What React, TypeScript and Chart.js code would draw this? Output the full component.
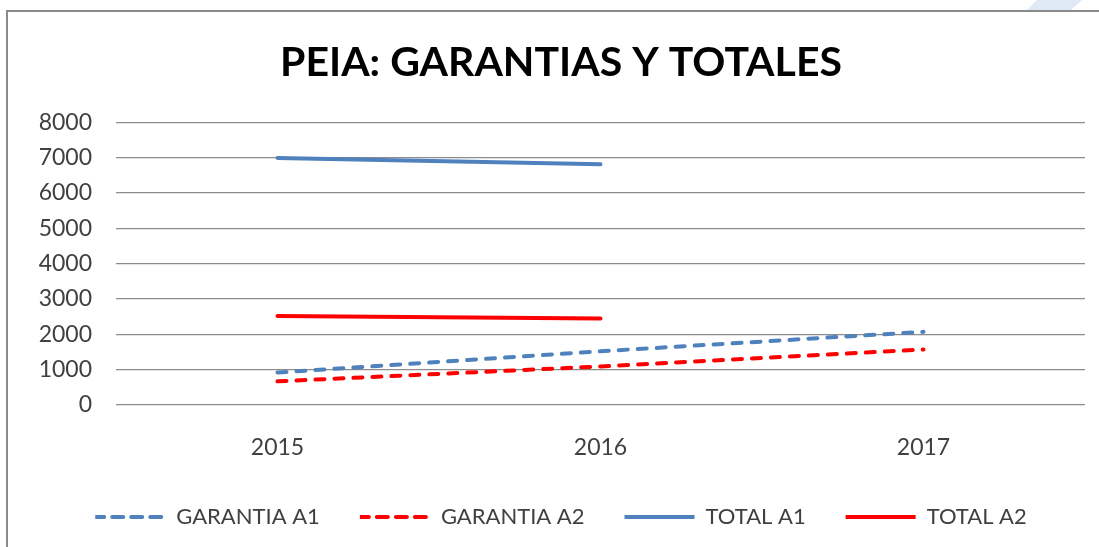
import React, { useEffect, useRef } from "react";
import { Chart, registerables } from "chart.js";

Chart.register(...registerables);

const categories = ["2015", "2016", "2017"];
const garantiaA1 = [920, 1520, 2070];
const garantiaA2 = [670, 1090, 1570];
const totalA1 = [6990, 6810, null];
const totalA2 = [2520, 2450, null];
const yTicks = { min: 0, max: 8000, step: 1000 };
const titleText = "PEIA: GARANTIAS Y TOTALES";

const BLUE = "#4F81BD";
const RED = "#FF0000";
const FONT = "Lato, 'Open Sans', sans-serif";

export default function App() {
  const ref = useRef<HTMLCanvasElement | null>(null);

  useEffect(() => {
    document.body.style.margin = "0";
    const canvas = ref.current;
    if (!canvas) return;
    const mk = (label: string, data: (number | null)[], color: string, dashed: boolean) => ({
      label,
      data,
      borderColor: color,
      backgroundColor: color,
      borderWidth: 4,
      borderDash: dashed ? [9, 10] : [],
      borderCapStyle: "round" as const,
      pointRadius: 0,
      pointHoverRadius: 0,
      tension: 0,
      spanGaps: false,
    });
    const chart = new Chart(canvas, {
      type: "line",
      data: {
        labels: categories,
        datasets: [
          mk("GARANTIA A1", garantiaA1, BLUE, true),
          mk("GARANTIA A2", garantiaA2, RED, true),
          mk("TOTAL A1", totalA1, BLUE, false),
          mk("TOTAL A2", totalA2, RED, false),
        ],
      },
      options: {
        responsive: false,
        animation: false,
        layout: { padding: { left: 37, right: 14, top: 0, bottom: 9 } },
        plugins: {
          title: {
            display: true,
            text: titleText,
            color: "#000000",
            font: { family: FONT, size: 41, weight: "bold" },
            padding: { top: 38, bottom: 35 },
          },
          legend: {
            position: "bottom",
            labels: {
              color: "#404040",
              font: { family: FONT, size: 22 },
              boxWidth: 70,
              boxHeight: 0,
              padding: 40,
            },
          },
          tooltip: { enabled: false },
        },
        scales: {
          x: {
            offset: true,
            grid: { display: false },
            border: { display: false },
            ticks: { color: "#404040", font: { family: FONT, size: 23 }, padding: 21 },
            afterFit: (s: any) => {
              s.height = 61;
            },
          },
          y: {
            min: yTicks.min,
            max: yTicks.max,
            ticks: {
              stepSize: yTicks.step,
              color: "#404040",
              font: { family: FONT, size: 23 },
              padding: 24,
              callback: (v: any) => String(v),
            },
            grid: { color: "#8c8c8c", lineWidth: 1.3, drawTicks: false },
            border: { display: false },
            afterFit: (s: any) => {
              s.width = 79;
            },
          },
        },
      },
    });
    return () => chart.destroy();
  }, []);

  return (
    <div style={{ position: "relative", width: 1099, height: 547, overflow: "hidden", background: "#fff" }}>
      <div
        style={{
          position: "absolute",
          left: 1027,
          top: 0,
          width: 55,
          height: 10,
          background: "#dfeaf6",
          clipPath: "polygon(18% 0, 100% 0, 80% 100%, 0 100%)",
        }}
      />
      <div
        style={{
          position: "absolute",
          left: 6,
          top: 10,
          width: 1200,
          height: 600,
          borderLeft: "2px solid #8a8a8a",
          borderTop: "2px solid #8a8a8a",
        }}
      />
      <canvas ref={ref} width={1099} height={547} style={{ position: "absolute", left: 0, top: 0, display: "block" }} />
    </div>
  );
}
